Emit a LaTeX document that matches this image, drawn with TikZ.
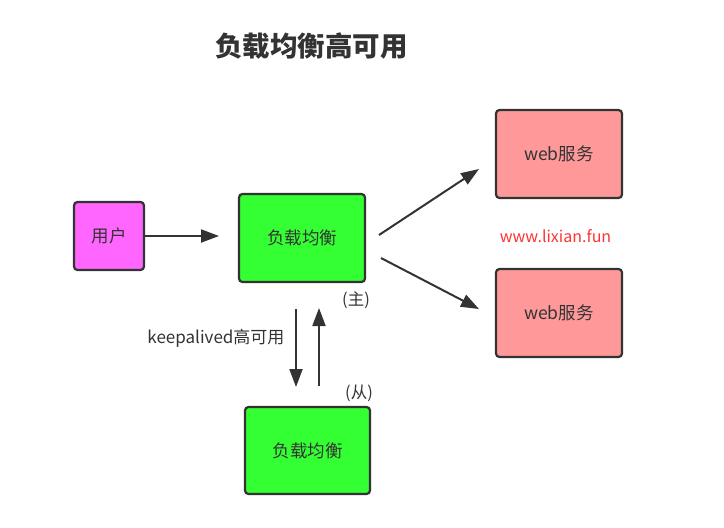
\documentclass[tikz,border=0pt]{standalone}
\usepackage{fontspec}
\setmainfont{Noto Sans CJK SC}
\usetikzlibrary{arrows.meta}
\definecolor{edge}{HTML}{333333}
\definecolor{usercol}{HTML}{FF66FF}
\definecolor{lbcol}{HTML}{33FF33}
\definecolor{webcol}{HTML}{FF9999}
\definecolor{urlcol}{HTML}{FF3333}
\tikzset{
  box/.style={draw=edge, line width=2.2pt, rounded corners=3.5pt, text=edge,
    font=\fontsize{17.5}{19}\selectfont, inner sep=0pt},
  link/.style={draw=edge, line width=2pt, -{Triangle[length=18pt, width=13pt]}},
  note/.style={text=edge, font=\fontsize{16.5}{18}\selectfont}
}
\begin{document}
\begin{tikzpicture}[x=1pt, y=-1pt]
\useasboundingbox (0,0) rectangle (724,528);
\node[font=\fontsize{27.5}{30}\selectfont\bfseries, text=edge] (title) at (311.5,46) {负载均衡高可用};
\node[box, fill=usercol, minimum width=70pt, minimum height=68pt] (user) at (109,236) {用户};
\node[box, fill=lbcol, minimum width=126pt, minimum height=88pt] (master) at (302,238) {负载均衡};
\node[box, fill=lbcol, minimum width=125pt, minimum height=87pt] (slave) at (307.5,450.5) {负载均衡};
\node[box, fill=webcol, minimum width=126pt, minimum height=88pt] (webA) at (559,154) {web服务};
\node[box, fill=webcol, minimum width=126pt, minimum height=88pt] (webB) at (559,313) {web服务};
\node[note] (main) at (356,300) {(主)};
\node[note] (sub) at (359,393) {(从)};
\node[note, font=\fontsize{17}{19}\selectfont, anchor=east] (keep) at (288,338) {keepalived高可用};
\node[text=urlcol, font=\fontsize{16}{18}\selectfont] (url) at (555.5,236) {www.lixian.fun};
% arrows
\coordinate (a1) at (219,236);
\coordinate (b0) at (379,235);
\coordinate (b1) at (479,169);
\coordinate (c0) at (381,258);
\coordinate (c1) at (479,309);
\coordinate (d0) at (296,309);
\coordinate (d1) at (296,387);
\coordinate (e0) at (319,386);
\coordinate (e1) at (319,308);
\draw[link] (user) -- (a1);
\draw[link] (b0) -- (b1);
\draw[link] (c0) -- (c1);
\draw[link] (d0) -- (d1);
\draw[link] (e0) -- (e1);
\end{tikzpicture}
\end{document}
